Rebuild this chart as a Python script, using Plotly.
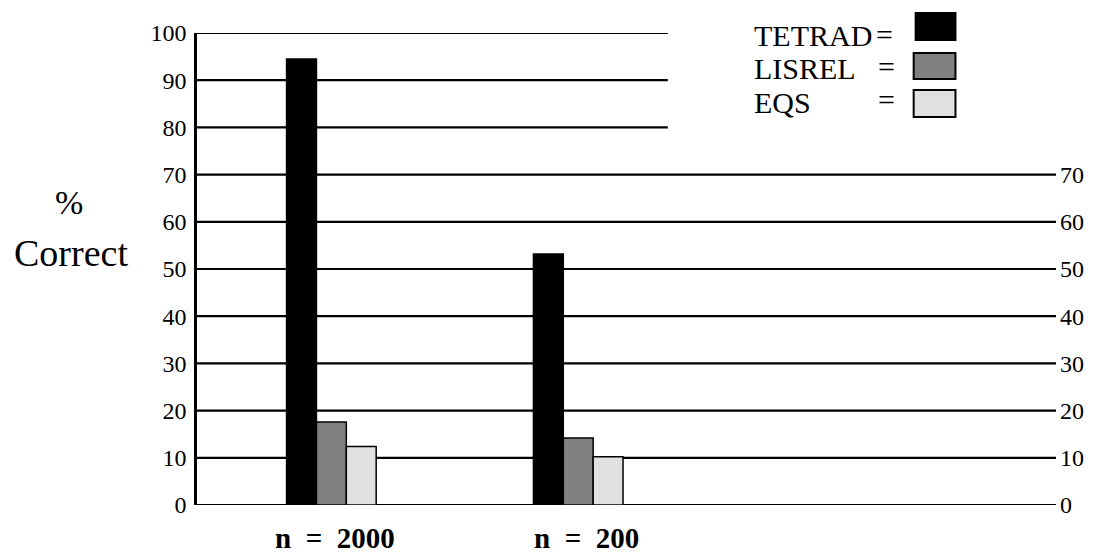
import plotly.graph_objects as go

# ---- data ----
groups = ["n&nbsp; =&nbsp; 2000", "n&nbsp; =&nbsp; 200"]
series_names = ["TETRAD", "LISREL", "EQS"]
tetrad = [94.5, 53.2]
lisrel = [17.6, 14.2]
eqs = [12.4, 10.2]
left_ticks = [0, 10, 20, 30, 40, 50, 60, 70, 80, 90, 100]
right_ticks = [0, 10, 20, 30, 40, 50, 60, 70]
short_grid = [80, 90, 100]
full_grid = [0, 10, 20, 30, 40, 50, 60, 70]

colors = ["#000000", "#808080", "#e0e0e0"]
values = [tetrad, lisrel, eqs]

W, H = 1096, 558
L, R, T, B = 197, 1060, 33, 505  # plot area in pixels


def px(xp):
    return (xp - L) / (R - L)


def py(yp):
    return (B - yp) / (B - T)


FONT = "Liberation Serif, Times New Roman, serif"
fig = go.Figure()
xs = list(range(len(groups)))
for name, vals, c in zip(series_names, values, colors):
    fig.add_trace(go.Bar(
        x=xs, y=vals, name=name, marker_color=c,
        marker_line=dict(color="black", width=1.5), showlegend=False,
    ))

fig.add_trace(go.Scatter(x=[0], y=[0], yaxis="y2", mode="markers",
                         marker=dict(opacity=0), showlegend=False, hoverinfo="skip"))

# x range so that group 0 is at pixel 332, group 1 at 580
ppu = 580 - 332
x0 = (L - 332) / ppu
x1 = (R - 332) / ppu

fig.update_layout(
    width=W, height=H,
    margin=dict(l=L, r=W - R, t=T, b=H - B, pad=0),
    plot_bgcolor="white", paper_bgcolor="white",
    barmode="group", bargap=0.637, bargroupgap=0.0,
    font=dict(family=FONT, color="black", size=24),
    xaxis=dict(range=[x0, x1], showticklabels=False, showgrid=False,
               zeroline=False, showline=False, fixedrange=True),
    yaxis=dict(range=[0, 100], tickvals=left_ticks, showgrid=False, zeroline=False,
               showline=True, linecolor="black", linewidth=2.5, ticks="",
               ticklabelstandoff=3, tickfont=dict(size=24, family=FONT, color="black")),
    yaxis2=dict(range=[0, 100], tickvals=right_ticks, overlaying="y", side="right",
                showgrid=False, zeroline=False, showline=False, ticks="",
                ticklabelstandoff=3, tickfont=dict(size=24, family=FONT, color="black")),
)

shapes = []
for g in full_grid:
    shapes.append(dict(type="line", xref="paper", yref="y", x0=0, x1=1, y0=g, y1=g,
                       line=dict(color="black", width=2.2), layer="below"))
for g in short_grid:
    shapes.append(dict(type="line", xref="paper", yref="y", x0=0, x1=px(670), y0=g, y1=g,
                       line=dict(color="black", width=2.2), layer="below"))

# legend boxes
boxes = [(919, 13, 959, 40), (917, 53, 959, 79), (917, 90, 959, 117)]
for (bx0, by0, bx1, by1), c in zip(boxes, colors):
    shapes.append(dict(type="rect", xref="paper", yref="paper",
                       x0=px(bx0), x1=px(bx1), y0=py(by1), y1=py(by0),
                       fillcolor=c, line=dict(color="black", width=2)))
fig.update_layout(shapes=shapes)

ann = []
row_y = [36, 68, 102]
for name, ry in zip(series_names, row_y):
    ann.append(dict(text=name, xref="paper", yref="paper", x=px(755), y=py(ry),
                    xanchor="left", yanchor="middle", showarrow=False,
                    font=dict(size=30, family=FONT)))
    ann.append(dict(text="=", xref="paper", yref="paper", x=px(877 if name == "TETRAD" else 879),
                    y=py(ry - 2), xanchor="left", yanchor="middle", showarrow=False,
                    font=dict(size=30, family=FONT)))

# y title
ann.append(dict(text="%", xref="paper", yref="paper", x=px(68), y=py(202),
                xanchor="center", yanchor="middle", showarrow=False,
                font=dict(size=34, family=FONT)))
ann.append(dict(text="Correct", xref="paper", yref="paper", x=px(70), y=py(253),
                xanchor="center", yanchor="middle", showarrow=False,
                font=dict(size=38, family=FONT)))

# category labels
shifts = [4, 8]
for i, (g, s) in enumerate(zip(groups, shifts)):
    ann.append(dict(text="<b>" + g + "</b>", xref="x", yref="paper", x=xs[i], y=py(538),
                    xshift=s, xanchor="center", yanchor="middle", showarrow=False,
                    font=dict(size=29, family=FONT)))
fig.update_layout(annotations=ann)

fig.write_html("out.html", config={"displayModeBar": False},
               post_script="document.body.style.margin='0';document.body.style.padding='0';")
